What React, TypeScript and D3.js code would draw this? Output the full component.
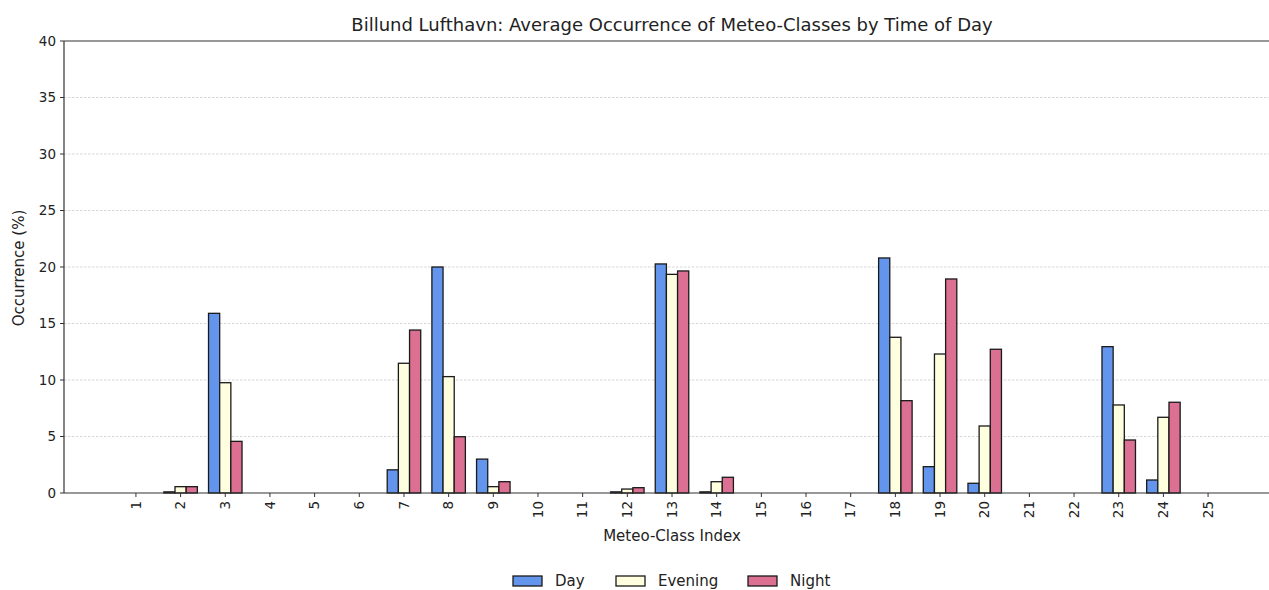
import React from "react";
import * as d3 from "d3";

const classes = Array.from({ length: 25 }, (_, i) => i + 1);
const dayValues = [0, 0.1, 15.9, 0, 0, 0, 2.05, 20.0, 3.0, 0, 0, 0.1, 20.27, 0.1, 0, 0, 0, 20.8, 2.33, 0.86, 0, 0, 12.95, 1.15, 0];
const eveningValues = [0, 0.56, 9.76, 0, 0, 0, 11.48, 10.3, 0.56, 0, 0, 0.35, 19.35, 1.0, 0, 0, 0, 13.78, 12.3, 5.93, 0, 0, 7.79, 6.7, 0];
const nightValues = [0, 0.56, 4.57, 0, 0, 0, 14.42, 4.98, 1.0, 0, 0, 0.47, 19.65, 1.39, 0, 0, 0, 8.17, 18.94, 12.72, 0, 0, 4.69, 8.03, 0];
const yTicks = [0, 5, 10, 15, 20, 25, 30, 35, 40];
const seriesNames = ["Day", "Evening", "Night"];
const seriesColors = ["#6495ED", "#FFFFE0", "#DB7093"];

const W = 1269;
const H = 590;
const left = 64;
const right = 1280;
const top = 41;
const bottom = 493;
const font = "DejaVu Sans, sans-serif";

export default function App() {
  const x = d3.scaleLinear().domain([1 - 1.61, 25 + 1.61]).range([left, right]);
  const y = d3.scaleLinear().domain([0, 40]).range([bottom, top]);
  const bw = (x(1.25) - x(1));
  const series = [dayValues, eveningValues, nightValues];

  return (
    <svg width={W} height={H} style={{ position: "absolute", left: 0, top: 0, background: "#fff" }} fontFamily={font}>
      {/* grid */}
      {yTicks.filter(t => t > 0 && t < 40).map(t => (
        <line key={"g" + t} x1={left} x2={right} y1={y(t)} y2={y(t)} stroke="#b0b0b0" strokeWidth={0.7} strokeDasharray="2.5,1.5" opacity={0.7} />
      ))}
      {/* bars */}
      {series.map((vals, si) =>
        vals.map((v, i) => {
          if (v <= 0) return null;
          const cx = x(classes[i]) + (si - 1) * bw;
          return (
            <rect key={si + "-" + i} x={cx - bw / 2} y={y(v)} width={bw} height={y(0) - y(v)} fill={seriesColors[si]} stroke="#1a1a1a" strokeWidth={1.3} />
          );
        })
      )}
      {/* spines */}
      <line x1={left} x2={right} y1={top} y2={top} stroke="#333" strokeWidth={1.2} />
      <line x1={left} x2={right} y1={bottom} y2={bottom} stroke="#333" strokeWidth={1.2} />
      <line x1={left} x2={left} y1={top} y2={bottom} stroke="#333" strokeWidth={1.2} />
      {/* y ticks */}
      {yTicks.map(t => (
        <g key={"y" + t}>
          <line x1={left - 4} x2={left} y1={y(t)} y2={y(t)} stroke="#333" />
          <text x={left - 8} y={y(t)} dy="0.35em" textAnchor="end" fontSize={13.5} fill="#222">{t}</text>
        </g>
      ))}
      {/* x ticks */}
      {classes.map(c => (
        <g key={"x" + c}>
          <line x1={x(c)} x2={x(c)} y1={bottom} y2={bottom + 4} stroke="#333" />
          <text transform={`translate(${x(c)},${bottom + 8}) rotate(-90)`} dy="0.35em" textAnchor="end" fontSize={13.5} fill="#222">{c}</text>
        </g>
      ))}
      {/* labels */}
      <text x={(left + right) / 2} y={31} textAnchor="middle" fontSize={18} fill="#222">Billund Lufthavn: Average Occurrence of Meteo-Classes by Time of Day</text>
      <text x={(left + right) / 2} y={541} textAnchor="middle" fontSize={15} fill="#222">Meteo-Class Index</text>
      <text transform={`translate(24,${268}) rotate(-90)`} textAnchor="middle" fontSize={15} fill="#222">Occurrence (%)</text>
      {/* legend */}
      {seriesNames.map((n, i) => {
        const lx = [513, 616, 748][i];
        return (
          <g key={n}>
            <rect x={lx} y={576} width={29} height={10} fill={seriesColors[i]} stroke="#1a1a1a" strokeWidth={1.3} />
            <text x={lx + 42} y={581} dy="0.35em" fontSize={15} fill="#222">{n}</text>
          </g>
        );
      })}
    </svg>
  );
}
